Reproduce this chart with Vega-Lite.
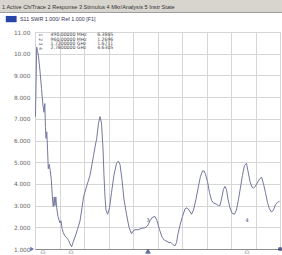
{
  "$schema": "https://vega.github.io/schema/vega-lite/v6.json",
  "width": 245,
  "height": 217,
  "autosize": {"type": "none"},
  "padding": {"left": 35, "top": 32, "right": 2, "bottom": 6},
  "background": "white",
  "config": {"view": {"stroke": "#b4b4b4", "strokeWidth": 1}, "axis": {"labelOverlap": false}},
  "datasets": {
    "trace": [
      {"f": 505, "v": 7.1}, {"f": 518, "v": 10.3}, {"f": 527, "v": 10.1}, {"f": 537, "v": 9.9},
      {"f": 553, "v": 9.2}, {"f": 569, "v": 8.4}, {"f": 585, "v": 7.6}, {"f": 596, "v": 7.3},
      {"f": 604, "v": 7.7}, {"f": 611, "v": 6.6}, {"f": 617, "v": 6.1}, {"f": 625, "v": 6.4},
      {"f": 633, "v": 5.6}, {"f": 641, "v": 4.7}, {"f": 652, "v": 4.9}, {"f": 662, "v": 4.6},
      {"f": 673, "v": 4.2}, {"f": 686, "v": 3.3}, {"f": 694, "v": 2.95}, {"f": 704, "v": 3.4},
      {"f": 712, "v": 3.0}, {"f": 721, "v": 3.4}, {"f": 730, "v": 2.9}, {"f": 744, "v": 2.5},
      {"f": 765, "v": 2.2}, {"f": 776, "v": 2.3}, {"f": 787, "v": 1.95}, {"f": 800, "v": 1.75},
      {"f": 818, "v": 1.6}, {"f": 840, "v": 1.5}, {"f": 856, "v": 1.4}, {"f": 871, "v": 1.25},
      {"f": 889, "v": 1.1}, {"f": 903, "v": 1.3}, {"f": 924, "v": 1.55}, {"f": 951, "v": 1.9},
      {"f": 978, "v": 2.3}, {"f": 999, "v": 2.9}, {"f": 1015, "v": 3.4}, {"f": 1049, "v": 3.9},
      {"f": 1084, "v": 4.4}, {"f": 1105, "v": 4.9}, {"f": 1121, "v": 5.3}, {"f": 1137, "v": 5.7},
      {"f": 1155, "v": 6.1}, {"f": 1174, "v": 6.8}, {"f": 1190, "v": 7.1}, {"f": 1206, "v": 6.8},
      {"f": 1222, "v": 5.6}, {"f": 1232, "v": 4.4}, {"f": 1243, "v": 3.4}, {"f": 1253, "v": 2.8},
      {"f": 1271, "v": 2.6}, {"f": 1291, "v": 2.9}, {"f": 1312, "v": 3.6}, {"f": 1338, "v": 4.4},
      {"f": 1365, "v": 4.95}, {"f": 1384, "v": 5.05}, {"f": 1402, "v": 4.9}, {"f": 1423, "v": 4.2},
      {"f": 1444, "v": 3.3}, {"f": 1471, "v": 2.6}, {"f": 1498, "v": 2.0}, {"f": 1524, "v": 1.7},
      {"f": 1545, "v": 1.85}, {"f": 1572, "v": 1.9}, {"f": 1593, "v": 1.88}, {"f": 1625, "v": 1.95},
      {"f": 1657, "v": 1.97}, {"f": 1678, "v": 2.0}, {"f": 1699, "v": 2.1}, {"f": 1720, "v": 2.3},
      {"f": 1742, "v": 2.45}, {"f": 1773, "v": 2.5}, {"f": 1795, "v": 2.3}, {"f": 1821, "v": 1.9},
      {"f": 1848, "v": 1.55}, {"f": 1874, "v": 1.4}, {"f": 1901, "v": 1.35}, {"f": 1922, "v": 1.3},
      {"f": 1943, "v": 1.3}, {"f": 1964, "v": 1.2}, {"f": 1986, "v": 1.15}, {"f": 2002, "v": 1.3},
      {"f": 2018, "v": 1.7}, {"f": 2039, "v": 2.1}, {"f": 2065, "v": 2.5}, {"f": 2092, "v": 2.85},
      {"f": 2113, "v": 2.9}, {"f": 2134, "v": 2.8}, {"f": 2161, "v": 2.6}, {"f": 2182, "v": 2.8},
      {"f": 2209, "v": 3.3}, {"f": 2235, "v": 3.9}, {"f": 2256, "v": 4.35}, {"f": 2278, "v": 4.6},
      {"f": 2293, "v": 4.6}, {"f": 2309, "v": 4.45}, {"f": 2331, "v": 4.1}, {"f": 2352, "v": 3.6},
      {"f": 2373, "v": 3.25}, {"f": 2394, "v": 3.12}, {"f": 2421, "v": 3.08}, {"f": 2447, "v": 3.0},
      {"f": 2463, "v": 3.0}, {"f": 2479, "v": 3.3}, {"f": 2500, "v": 3.75}, {"f": 2516, "v": 3.88},
      {"f": 2532, "v": 3.75}, {"f": 2548, "v": 3.3}, {"f": 2569, "v": 2.9}, {"f": 2591, "v": 2.65},
      {"f": 2617, "v": 2.6}, {"f": 2638, "v": 2.8}, {"f": 2660, "v": 3.3}, {"f": 2681, "v": 3.85},
      {"f": 2702, "v": 4.4}, {"f": 2723, "v": 4.85}, {"f": 2744, "v": 4.95}, {"f": 2760, "v": 4.6},
      {"f": 2782, "v": 4.1}, {"f": 2803, "v": 3.85}, {"f": 2819, "v": 3.8}, {"f": 2840, "v": 3.9},
      {"f": 2866, "v": 4.1}, {"f": 2888, "v": 4.25}, {"f": 2906, "v": 4.3}, {"f": 2925, "v": 4.0},
      {"f": 2946, "v": 3.6}, {"f": 2967, "v": 3.15}, {"f": 2988, "v": 2.85}, {"f": 3010, "v": 2.7},
      {"f": 3031, "v": 2.8}, {"f": 3052, "v": 3.05}, {"f": 3073, "v": 3.15}, {"f": 3095, "v": 3.2}
    ],
    "markers": [
      {"num": "1", "freq": "490.00000 MHz", "val": "6.3865", "row": 10.86, "pos": 585, "active": false},
      {"num": "2", "freq": "960.00000 MHz", "val": "1.2696", "row": 10.65, "pos": 882, "active": false},
      {"num": "3", "freq": "1.7200000 GHz", "val": "1.6711", "row": 10.45, "pos": 1699, "active": true},
      {"num": "4", "freq": "2.7800000 GHz", "val": "4.6305", "row": 10.24, "pos": 2750, "active": false}
    ],
    "header": [
      {"menu": "1 Active Ch/Trace  2 Response  3 Stimulus  4 Mkr/Analysis  5 Instr State", "label": "S11 SWR 1.000/ Ref 1.000 [F1]"}
    ]
  },
  "layer": [
    {
      "data": {"name": "trace"},
      "mark": {"type": "line", "color": "#74789f", "strokeWidth": 1, "interpolate": "linear", "clip": true},
      "encoding": {
        "x": {
          "field": "f", "type": "quantitative",
          "scale": {"domain": [500, 3100], "nice": false, "zero": false},
          "axis": {
            "title": null, "labels": false, "ticks": false, "tickCount": 11,
            "values": [500, 760, 1020, 1280, 1540, 1800, 2060, 2320, 2580, 2840, 3100],
            "grid": true, "gridColor": "#d6d6d6", "gridWidth": 1,
            "domain": true, "domainColor": "#8c8c8c", "domainWidth": 1
          }
        },
        "y": {
          "field": "v", "type": "quantitative",
          "scale": {"domain": [1, 11], "nice": false, "zero": false},
          "axis": {
            "title": null, "ticks": false, "domain": false, "tickCount": 11,
            "values": [1, 2, 3, 4, 5, 6, 7, 8, 9, 10, 11],
            "format": ".4r",
            "grid": true, "gridColor": "#d6d6d6", "gridWidth": 1,
            "labelFont": "DejaVu Sans", "labelFontSize": 5.8, "labelColor": "#666666",
            "labelPadding": 5, "labelOverlap": false, "labelBound": false, "labelFlush": false
          }
        }
      }
    },
    {
      "data": {"name": "header"},
      "mark": {"type": "rect", "color": "#d8d5cf", "clip": false},
      "encoding": {
        "x": {"datum": 128.6, "type": "quantitative"},
        "x2": {"datum": 3121},
        "y": {"datum": 11.92, "type": "quantitative"},
        "y2": {"datum": 12.48}
      }
    },
    {
      "data": {"name": "header"},
      "mark": {"type": "rule", "color": "#9c9c9c", "strokeWidth": 1, "clip": false},
      "encoding": {
        "x": {"datum": 128.6, "type": "quantitative"},
        "x2": {"datum": 3121},
        "y": {"datum": 11.9, "type": "quantitative"}
      }
    },
    {
      "data": {"name": "header"},
      "mark": {"type": "text", "align": "left", "baseline": "middle", "font": "Liberation Sans", "fontSize": 5.6, "color": "#333333", "clip": false},
      "encoding": {
        "x": {"datum": 150, "type": "quantitative"},
        "y": {"datum": 12.17, "type": "quantitative"},
        "text": {"field": "menu"}
      }
    },
    {
      "data": {"name": "header"},
      "mark": {"type": "rect", "color": "#2a45a8", "clip": false},
      "encoding": {
        "x": {"datum": 190, "type": "quantitative"},
        "x2": {"datum": 305},
        "y": {"datum": 11.45, "type": "quantitative"},
        "y2": {"datum": 11.74}
      }
    },
    {
      "data": {"name": "header"},
      "mark": {"type": "text", "align": "left", "baseline": "middle", "font": "Liberation Sans", "fontSize": 5.4, "color": "#333355", "clip": false},
      "encoding": {
        "x": {"datum": 341, "type": "quantitative"},
        "y": {"datum": 11.6, "type": "quantitative"},
        "text": {"field": "label"}
      }
    },
    {
      "data": {"name": "header"},
      "mark": {"type": "point", "shape": "triangle-right", "size": 20, "filled": true, "color": "#1f3a9a", "clip": false},
      "encoding": {
        "x": {"datum": 470, "type": "quantitative"},
        "y": {"datum": 1, "type": "quantitative"}
      }
    },
    {
      "data": {"name": "header"},
      "mark": {"type": "point", "shape": "circle", "size": 18, "filled": true, "color": "#1f2a6b", "clip": false},
      "encoding": {
        "x": {"datum": 3100, "type": "quantitative"},
        "y": {"datum": 1, "type": "quantitative"}
      }
    },
    {
      "data": {"name": "markers"},
      "mark": {"type": "text", "align": "center", "baseline": "middle", "font": "DejaVu Sans", "fontSize": 4.6, "color": "#555577", "angle": 90},
      "encoding": {
        "x": {"datum": 553, "type": "quantitative"},
        "y": {"field": "row", "type": "quantitative"},
        "text": {"field": "num"}
      }
    },
    {
      "data": {"name": "markers"},
      "mark": {"type": "text", "align": "left", "baseline": "middle", "font": "DejaVu Sans", "fontSize": 4.6, "color": "#444444"},
      "encoding": {
        "x": {"datum": 665, "type": "quantitative"},
        "y": {"field": "row", "type": "quantitative"},
        "text": {"field": "freq"}
      }
    },
    {
      "data": {"name": "markers"},
      "mark": {"type": "text", "align": "left", "baseline": "middle", "font": "DejaVu Sans", "fontSize": 4.6, "color": "#444444"},
      "encoding": {
        "x": {"datum": 1160, "type": "quantitative"},
        "y": {"field": "row", "type": "quantitative"},
        "text": {"field": "val"}
      }
    },
    {
      "data": {"name": "markers"},
      "mark": {"type": "point", "shape": "triangle-up", "size": 22, "filled": true, "clip": false, "strokeWidth": 0.8},
      "encoding": {
        "x": {"field": "pos", "type": "quantitative"},
        "y": {"datum": 0.9, "type": "quantitative"},
        "fill": {"field": "active", "type": "nominal", "scale": {"domain": [false, true], "range": ["#ffffff", "#1f2a6b"]}, "legend": null},
        "stroke": {"field": "active", "type": "nominal", "scale": {"domain": [false, true], "range": ["#8a8a8a", "#1f2a6b"]}, "legend": null}
      }
    },
    {
      "data": {"name": "markers"},
      "transform": [{"filter": "datum.num == '3' || datum.num == '4'"}],
      "mark": {"type": "text", "font": "DejaVu Sans", "fontSize": 5, "color": "#4a4f80", "dy": -5},
      "encoding": {
        "x": {"field": "pos", "type": "quantitative"},
        "y": {"datum": 2.1, "type": "quantitative"},
        "text": {"field": "num"}
      }
    }
  ]
}
